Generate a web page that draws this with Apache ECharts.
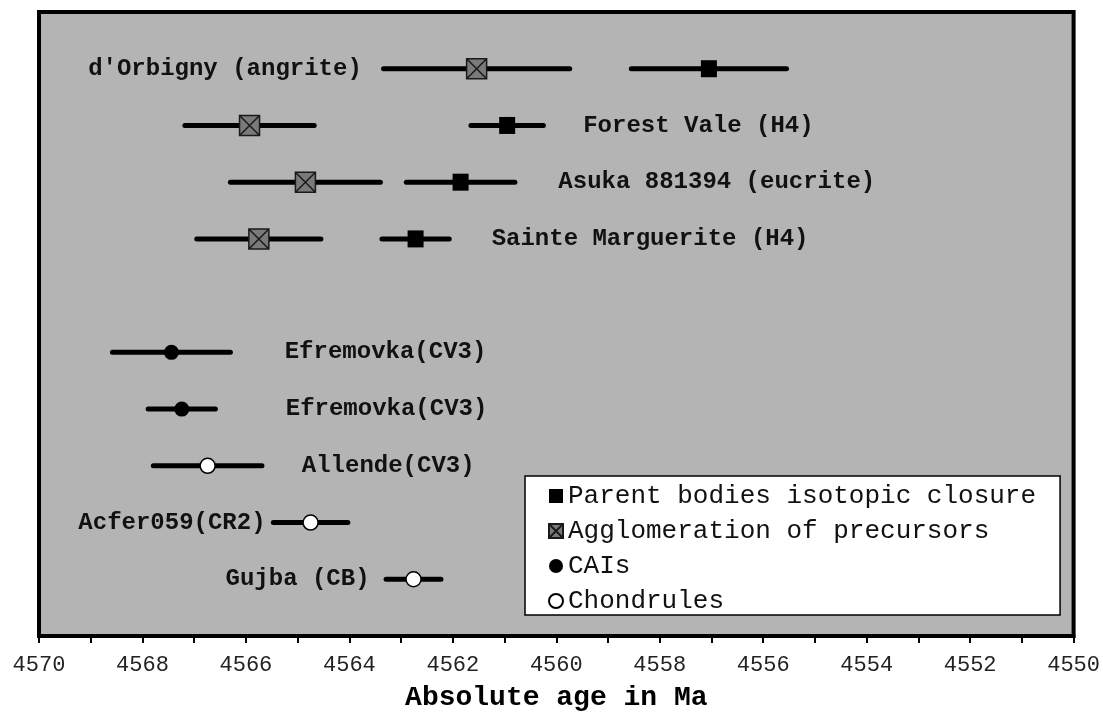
<!DOCTYPE html>
<html>
<head>
<meta charset="utf-8">
<script src="https://cdn.jsdelivr.net/npm/echarts@6/dist/echarts.min.js"></script>
<style>
html,body{margin:0;padding:0;background:#fff;}
#chart{width:1103px;height:717px;}
</style>
</head>
<body>
<div id="chart"></div>
<script>
// ---- data ----
const xTicks = [4570, 4568, 4566, 4564, 4562, 4560, 4558, 4556, 4554, 4552, 4550];

const parentRows = [1, 2, 3, 4];
const parentAge  = [4557.05, 4560.95, 4561.85, 4562.72];
const parentErr  = [1.50, 0.70, 1.05, 0.65];

const agglomRows = [1, 2, 3, 4];
const agglomAge  = [4561.54, 4565.93, 4564.85, 4565.75];
const agglomErr  = [1.80, 1.25, 1.45, 1.20];

const caiRows = [6, 7];
const caiAge  = [4567.44, 4567.24];
const caiErr  = [1.14, 0.65];

const chondRows = [8, 9, 10];
const chondAge  = [4566.74, 4564.75, 4562.76];
const chondErr  = [1.05, 0.72, 0.53];

const labelText  = ["d'Orbigny (angrite)", "Forest Vale (H4)", "Asuka 881394 (eucrite)", "Sainte Marguerite (H4)",
                    "Efremovka(CV3)", "Efremovka(CV3)", "Allende(CV3)", "Acfer059(CR2)", "Gujba (CB)"];
const labelRow   = [1, 2, 3, 4, 6, 7, 8, 9, 10];
const labelAge   = [4563.76, 4559.48, 4559.96, 4561.25, 4565.25, 4565.23, 4564.92, 4565.62, 4563.61];
const labelAlign = ['right', 'left', 'left', 'left', 'left', 'left', 'left', 'right', 'right'];

const seriesNames = ['Parent bodies isotopic closure', 'Agglomeration of precursors', 'CAIs', 'Chondrules'];

// ---- build ----
function errData(rows, age, err) {
  return rows.map((r, i) => [age[i] + err[i], age[i] - err[i], r]);
}
function ptData(rows, age) {
  return rows.map((r, i) => [age[i], r]);
}
const allErr = [].concat(
  errData(parentRows, parentAge, parentErr),
  errData(agglomRows, agglomAge, agglomErr),
  errData(caiRows, caiAge, caiErr),
  errData(chondRows, chondAge, chondErr)
);
const labelData = labelText.map((t, i) => [labelAge[i], labelRow[i], i]);

const FONT = '"Liberation Mono", "Courier New", monospace';
const xSymbol = 'path://M0,0H10V10H0Z M0,0L10,10 M10,0L0,10';

const chart = echarts.init(document.getElementById('chart'), null, {renderer: 'canvas'});
chart.setOption({
  animation: false,
  backgroundColor: '#ffffff',
  grid: {
    left: 39, right: 28, top: 12, bottom: 79,
    show: true, backgroundColor: '#b4b4b4',
    borderColor: '#000', borderWidth: 4
  },
  xAxis: {
    type: 'value', min: 4550, max: 4570, interval: 2, inverse: true, position: 'bottom',
    axisLine: {show: true, onZero: false, lineStyle: {color: '#000', width: 4}},
    axisTick: {show: true, inside: false, length: 7, lineStyle: {color: '#000', width: 2}},
    minorTick: {show: true, splitNumber: 2, length: 7, lineStyle: {color: '#000', width: 2}},
    splitLine: {show: false},
    axisLabel: {
      color: '#222', fontFamily: FONT, fontSize: 22, margin: 18,
      formatter: v => (xTicks.indexOf(v) >= 0 ? String(v) : '')
    },
    name: 'Absolute age in Ma', nameLocation: 'middle', nameGap: 48,
    nameTextStyle: {color: '#000', fontFamily: FONT, fontSize: 28, fontWeight: 'bold'}
  },
  yAxis: {
    type: 'value', min: 0, max: 11, inverse: true, show: false
  },
  legend: {
    data: seriesNames,
    orient: 'vertical', left: 525, top: 476,
    backgroundColor: '#ffffff', borderColor: '#000', borderWidth: 1.5,
    padding: [6, 24, 0, 23],
    itemWidth: 14, itemHeight: 14, itemGap: 7,
    textStyle: {fontFamily: FONT, fontSize: 26, color: '#111', lineHeight: 28, padding: [0, 0, 0, 0]},
    selectedMode: false
  },
  series: [
    {
      type: 'custom', name: 'errbars', silent: true, z: 2,
      data: allErr,
      encode: {x: [0, 1], y: 2},
      renderItem: function (params, api) {
        const a = api.coord([api.value(0), api.value(2)]);
        const b = api.coord([api.value(1), api.value(2)]);
        return {
          type: 'line',
          shape: {x1: a[0], y1: a[1], x2: b[0], y2: b[1]},
          style: {stroke: '#000', lineWidth: 5, lineCap: 'round'}
        };
      }
    },
    {
      type: 'scatter', name: seriesNames[0], z: 3,
      data: ptData(parentRows, parentAge),
      symbol: 'rect', symbolSize: [16, 17],
      itemStyle: {color: '#000', opacity: 1}
    },
    {
      type: 'scatter', name: seriesNames[1], z: 3,
      data: ptData(agglomRows, agglomAge),
      symbol: xSymbol, symbolSize: 20,
      itemStyle: {color: '#7a7a7a', borderColor: '#1a1a1a', borderWidth: 1.5, opacity: 1}
    },
    {
      type: 'scatter', name: seriesNames[2], z: 3,
      data: ptData(caiRows, caiAge),
      symbol: 'circle', symbolSize: 15,
      itemStyle: {color: '#000', opacity: 1}
    },
    {
      type: 'scatter', name: seriesNames[3], z: 3,
      data: ptData(chondRows, chondAge),
      symbol: 'circle', symbolSize: 15,
      itemStyle: {color: '#fff', borderColor: '#000', borderWidth: 1.5, opacity: 1}
    },
    {
      type: 'custom', name: 'labels', silent: true, z: 4,
      data: labelData,
      encode: {x: 0, y: 1},
      renderItem: function (params, api) {
        const p = api.coord([api.value(0), api.value(1)]);
        const i = api.value(2);
        return {
          type: 'text',
          x: p[0], y: p[1],
          style: {
            text: labelText[i],
            fill: '#111',
            fontFamily: FONT, fontSize: 24, fontWeight: 'bold',
            align: labelAlign[i], verticalAlign: 'middle'
          }
        };
      }
    }
  ]
});
</script>
</body>
</html>
